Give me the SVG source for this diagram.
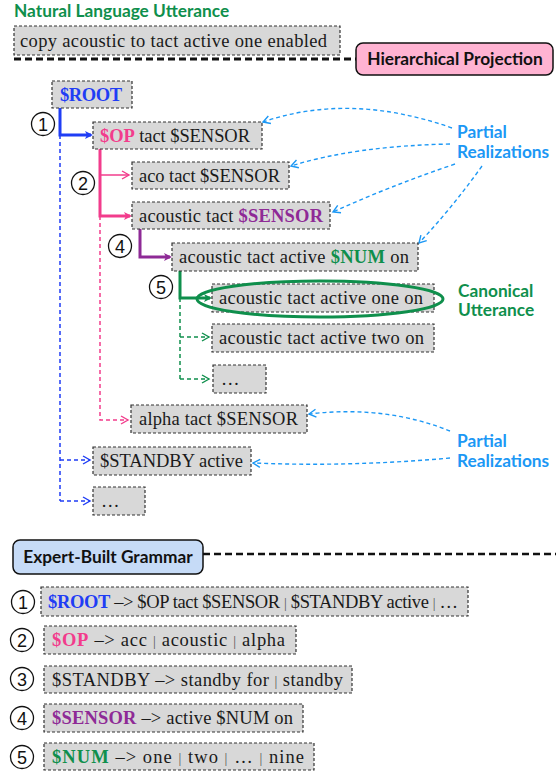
<svg xmlns="http://www.w3.org/2000/svg" width="558" height="771" viewBox="0 0 558 771">
<style>
.bx{fill:#d8d8d8;stroke:#333;stroke-width:1.2;stroke-dasharray:3,2}
.t{font-family:"Liberation Serif","DejaVu Serif",serif;font-size:18.5px;fill:#1a1a1a}
.b{font-weight:bold}
.sep{font-size:14px;fill:#555}
.h{font-family:Lato,"Open Sans","Liberation Sans",sans-serif;font-weight:bold;font-size:17.3px}
.num{fill:#fff;stroke:#111;stroke-width:1.3}
.nt{font-family:"Liberation Sans",Arial,sans-serif;font-size:18px;fill:#111;text-anchor:middle}
.blue{fill:#1f3df5}.pink{fill:#f23c8c}.purp{fill:#8e2a96}.grn{fill:#0f8f4c}
.pr{fill:#1c98f5}
.pl{fill:none;stroke:#1c98f5;stroke-width:1.4;stroke-dasharray:4,3}
</style>
<defs>
<marker id="abl" markerWidth="8" markerHeight="8" refX="6" refY="4" orient="auto" markerUnits="userSpaceOnUse"><path d="M0,0 L8,4 L0,8 L2,4 Z" fill="#1f3df5"/></marker>
<marker id="apk" markerWidth="8" markerHeight="8" refX="6" refY="4" orient="auto" markerUnits="userSpaceOnUse"><path d="M0,0 L8,4 L0,8 L2,4 Z" fill="#f23c8c"/></marker>
<marker id="apu" markerWidth="8" markerHeight="8" refX="6" refY="4" orient="auto" markerUnits="userSpaceOnUse"><path d="M0,0 L8,4 L0,8 L2,4 Z" fill="#8e2a96"/></marker>
<marker id="agr" markerWidth="8" markerHeight="8" refX="6" refY="4" orient="auto" markerUnits="userSpaceOnUse"><path d="M0,0 L8,4 L0,8 L2,4 Z" fill="#0f8f4c"/></marker>
<marker id="obl" markerWidth="10" markerHeight="10" refX="8" refY="5" orient="auto" markerUnits="userSpaceOnUse"><path d="M1,1 L8,5 L1,9" fill="none" stroke="#1f3df5" stroke-width="1.4"/></marker>
<marker id="opk" markerWidth="10" markerHeight="10" refX="8" refY="5" orient="auto" markerUnits="userSpaceOnUse"><path d="M1,1 L8,5 L1,9" fill="none" stroke="#f23c8c" stroke-width="1.4"/></marker>
<marker id="ogr" markerWidth="10" markerHeight="10" refX="8" refY="5" orient="auto" markerUnits="userSpaceOnUse"><path d="M1,1 L8,5 L1,9" fill="none" stroke="#0f8f4c" stroke-width="1.4"/></marker>
<marker id="opr" markerWidth="10" markerHeight="10" refX="8" refY="5" orient="auto" markerUnits="userSpaceOnUse"><path d="M1,1 L8,5 L1,9" fill="none" stroke="#1c98f5" stroke-width="1.4"/></marker>
</defs>

<g id="header">
<text class="h grn" x="14" y="17">Natural Language Utterance</text>
<rect class="bx" x="14" y="26" width="326" height="29"/>
<text class="t" x="20" y="47" textLength="307" lengthAdjust="spacing">copy acoustic to tact active one enabled</text>
<path d="M14,59 H356" stroke="#111" stroke-width="3" stroke-dasharray="7,4"/>
<rect x="356" y="43" width="197" height="32" rx="7" fill="#ffb3d2" stroke="#111" stroke-width="1.5"/>
<text class="h" x="455" y="65" text-anchor="middle" fill="#111">Hierarchical Projection</text>
</g>

<g id="connectors">
<path d="M60,135 V501" fill="none" stroke="#1f3df5" stroke-width="1.5" stroke-dasharray="4,3"/>
<path d="M60,460 H90" fill="none" stroke="#1f3df5" stroke-width="1.5" stroke-dasharray="4,3" marker-end="url(#obl)"/>
<path d="M60,501 H90" fill="none" stroke="#1f3df5" stroke-width="1.5" stroke-dasharray="4,3" marker-end="url(#obl)"/>
<path d="M60,108 V135 H91" fill="none" stroke="#1f3df5" stroke-width="3" marker-end="url(#abl)"/>
<path d="M100,216 V420 H128" fill="none" stroke="#f23c8c" stroke-width="1.5" stroke-dasharray="4,3" marker-end="url(#opk)"/>
<path d="M100,175 H129" fill="none" stroke="#f23c8c" stroke-width="1.5" marker-end="url(#opk)"/>
<path d="M100,149 V216 H130" fill="none" stroke="#f23c8c" stroke-width="3" marker-end="url(#apk)"/>
<path d="M140,229 V257 H170" fill="none" stroke="#8e2a96" stroke-width="3" marker-end="url(#apu)"/>
<path d="M180,298 V379" fill="none" stroke="#0f8f4c" stroke-width="1.5" stroke-dasharray="4,3"/>
<path d="M180,337 H209" fill="none" stroke="#0f8f4c" stroke-width="1.5" stroke-dasharray="4,3" marker-end="url(#ogr)"/>
<path d="M180,379 H209" fill="none" stroke="#0f8f4c" stroke-width="1.5" stroke-dasharray="4,3" marker-end="url(#ogr)"/>
<path d="M180,271 V298 H210" fill="none" stroke="#0f8f4c" stroke-width="3" marker-end="url(#agr)"/>
<path class="pl" d="M452,128 Q350,92 263,122" marker-end="url(#opr)"/>
<path class="pl" d="M450,144 Q355,146 291,166" marker-end="url(#opr)"/>
<path class="pl" d="M455,164 Q390,186 333,212" marker-end="url(#opr)"/>
<path class="pl" d="M482,166 Q452,208 419,243" marker-end="url(#opr)"/>
<path class="pl" d="M450,431 Q385,405 309,414" marker-end="url(#opr)"/>
<path class="pl" d="M450,458 Q350,467 253,463" marker-end="url(#opr)"/>
</g>

<g id="n1"><circle class="num" cx="43" cy="124" r="11.5"/><text class="nt" x="43" y="130.5">1</text></g>
<g id="n2"><circle class="num" cx="83" cy="183" r="11.5"/><text class="nt" x="83" y="189.5">2</text></g>
<g id="n4"><circle class="num" cx="120" cy="246" r="11.5"/><text class="nt" x="120" y="252.5">4</text></g>
<g id="n5"><circle class="num" cx="161" cy="287" r="11.5"/><text class="nt" x="161" y="293.5">5</text></g>

<g id="root"><rect class="bx" x="52" y="81" width="80" height="27"/><text class="t b blue" x="60" y="101" textLength="62" lengthAdjust="spacing">$ROOT</text></g>
<g id="op"><rect class="bx" x="93" y="122" width="169" height="27"/><text class="t" x="100" y="142" textLength="150" lengthAdjust="spacing"><tspan class="b pink">$OP</tspan> tact $SENSOR</text></g>
<g id="aco"><rect class="bx" x="132" y="162" width="157" height="27"/><text class="t" x="139" y="182" textLength="141" lengthAdjust="spacing">aco tact $SENSOR</text></g>
<g id="acoustic"><rect class="bx" x="132" y="202" width="198" height="27"/><text class="t" x="139" y="222" textLength="184" lengthAdjust="spacing">acoustic tact <tspan class="b purp">$SENSOR</tspan></text></g>
<g id="num"><rect class="bx" x="172" y="243" width="246" height="28"/><text class="t" x="179" y="263" textLength="230" lengthAdjust="spacing">acoustic tact active <tspan class="b grn">$NUM</tspan> on</text></g>
<g id="one"><rect class="bx" x="212" y="284" width="222" height="28"/><text class="t" x="219" y="304" textLength="204" lengthAdjust="spacing">acoustic tact active one on</text>
<ellipse cx="320" cy="299" rx="123" ry="18" fill="none" stroke="#0f8f4c" stroke-width="3"/></g>
<g id="two"><rect class="bx" x="212" y="324" width="222" height="28"/><text class="t" x="219" y="344" textLength="205" lengthAdjust="spacing">acoustic tact active two on</text></g>
<g id="dots1"><rect class="bx" x="213" y="365" width="53" height="28"/><text class="t" x="221" y="385">…</text></g>
<g id="alpha"><rect class="bx" x="131" y="405" width="176" height="28"/><text class="t" x="139" y="425" textLength="159" lengthAdjust="spacing">alpha tact $SENSOR</text></g>
<g id="standby"><rect class="bx" x="93" y="447" width="158" height="28"/><text class="t" x="100" y="467" textLength="143" lengthAdjust="spacing">$STANDBY active</text></g>
<g id="dots2"><rect class="bx" x="93" y="487" width="52" height="28"/><text class="t" x="101" y="507">…</text></g>

<g id="labels">
<text class="h pr" x="457" y="138">Partial</text>
<text class="h pr" x="457" y="158">Realizations</text>
<text class="h grn" x="458" y="297">Canonical</text>
<text class="h grn" x="458" y="316">Utterance</text>
<text class="h pr" x="457" y="447">Partial</text>
<text class="h pr" x="457" y="467">Realizations</text>
</g>

<g id="grammar">
<rect x="13" y="540" width="190" height="34" rx="7" fill="#c6dbf7" stroke="#111" stroke-width="1.5"/>
<text class="h" x="108" y="563" text-anchor="middle" fill="#111">Expert-Built Grammar</text>
<path d="M203,554 H556" stroke="#111" stroke-width="2.5" stroke-dasharray="7,4"/>
</g>
<g id="g1"><circle class="num" cx="23" cy="602" r="11.5"/><text class="nt" x="23" y="608.5">1</text>
<rect class="bx" x="41" y="587" width="427" height="29"/><text class="t" x="48" y="608" textLength="410" lengthAdjust="spacing"><tspan class="b blue">$ROOT</tspan> –&gt; $OP tact $SENSOR <tspan class="sep">|</tspan> $STANDBY active <tspan class="sep">|</tspan> …</text></g>
<g id="g2"><circle class="num" cx="22" cy="640" r="11.5"/><text class="nt" x="22" y="646.5">2</text>
<rect class="bx" x="44" y="626" width="252" height="28"/><text class="t" x="52" y="646" textLength="233" lengthAdjust="spacing"><tspan class="b pink">$OP</tspan> –&gt; acc <tspan class="sep">|</tspan> acoustic <tspan class="sep">|</tspan> alpha</text></g>
<g id="g3"><circle class="num" cx="22" cy="679" r="11.5"/><text class="nt" x="22" y="685.5">3</text>
<rect class="bx" x="44" y="666" width="308" height="27"/><text class="t" x="52" y="686" textLength="291" lengthAdjust="spacing">$STANDBY –&gt; standby for <tspan class="sep">|</tspan> standby</text></g>
<g id="g4"><circle class="num" cx="22" cy="718" r="11.5"/><text class="nt" x="22" y="724.5">4</text>
<rect class="bx" x="44" y="704" width="259" height="28"/><text class="t" x="52" y="724" textLength="241" lengthAdjust="spacing"><tspan class="b purp">$SENSOR</tspan> –&gt; active $NUM on</text></g>
<g id="g5"><circle class="num" cx="22" cy="757" r="11.5"/><text class="nt" x="22" y="763.5">5</text>
<rect class="bx" x="44" y="743" width="270" height="27"/><text class="t" x="52" y="763" textLength="252" lengthAdjust="spacing"><tspan class="b grn">$NUM</tspan> –&gt; one <tspan class="sep">|</tspan> two <tspan class="sep">|</tspan> … <tspan class="sep">|</tspan> nine</text></g>
</svg>
